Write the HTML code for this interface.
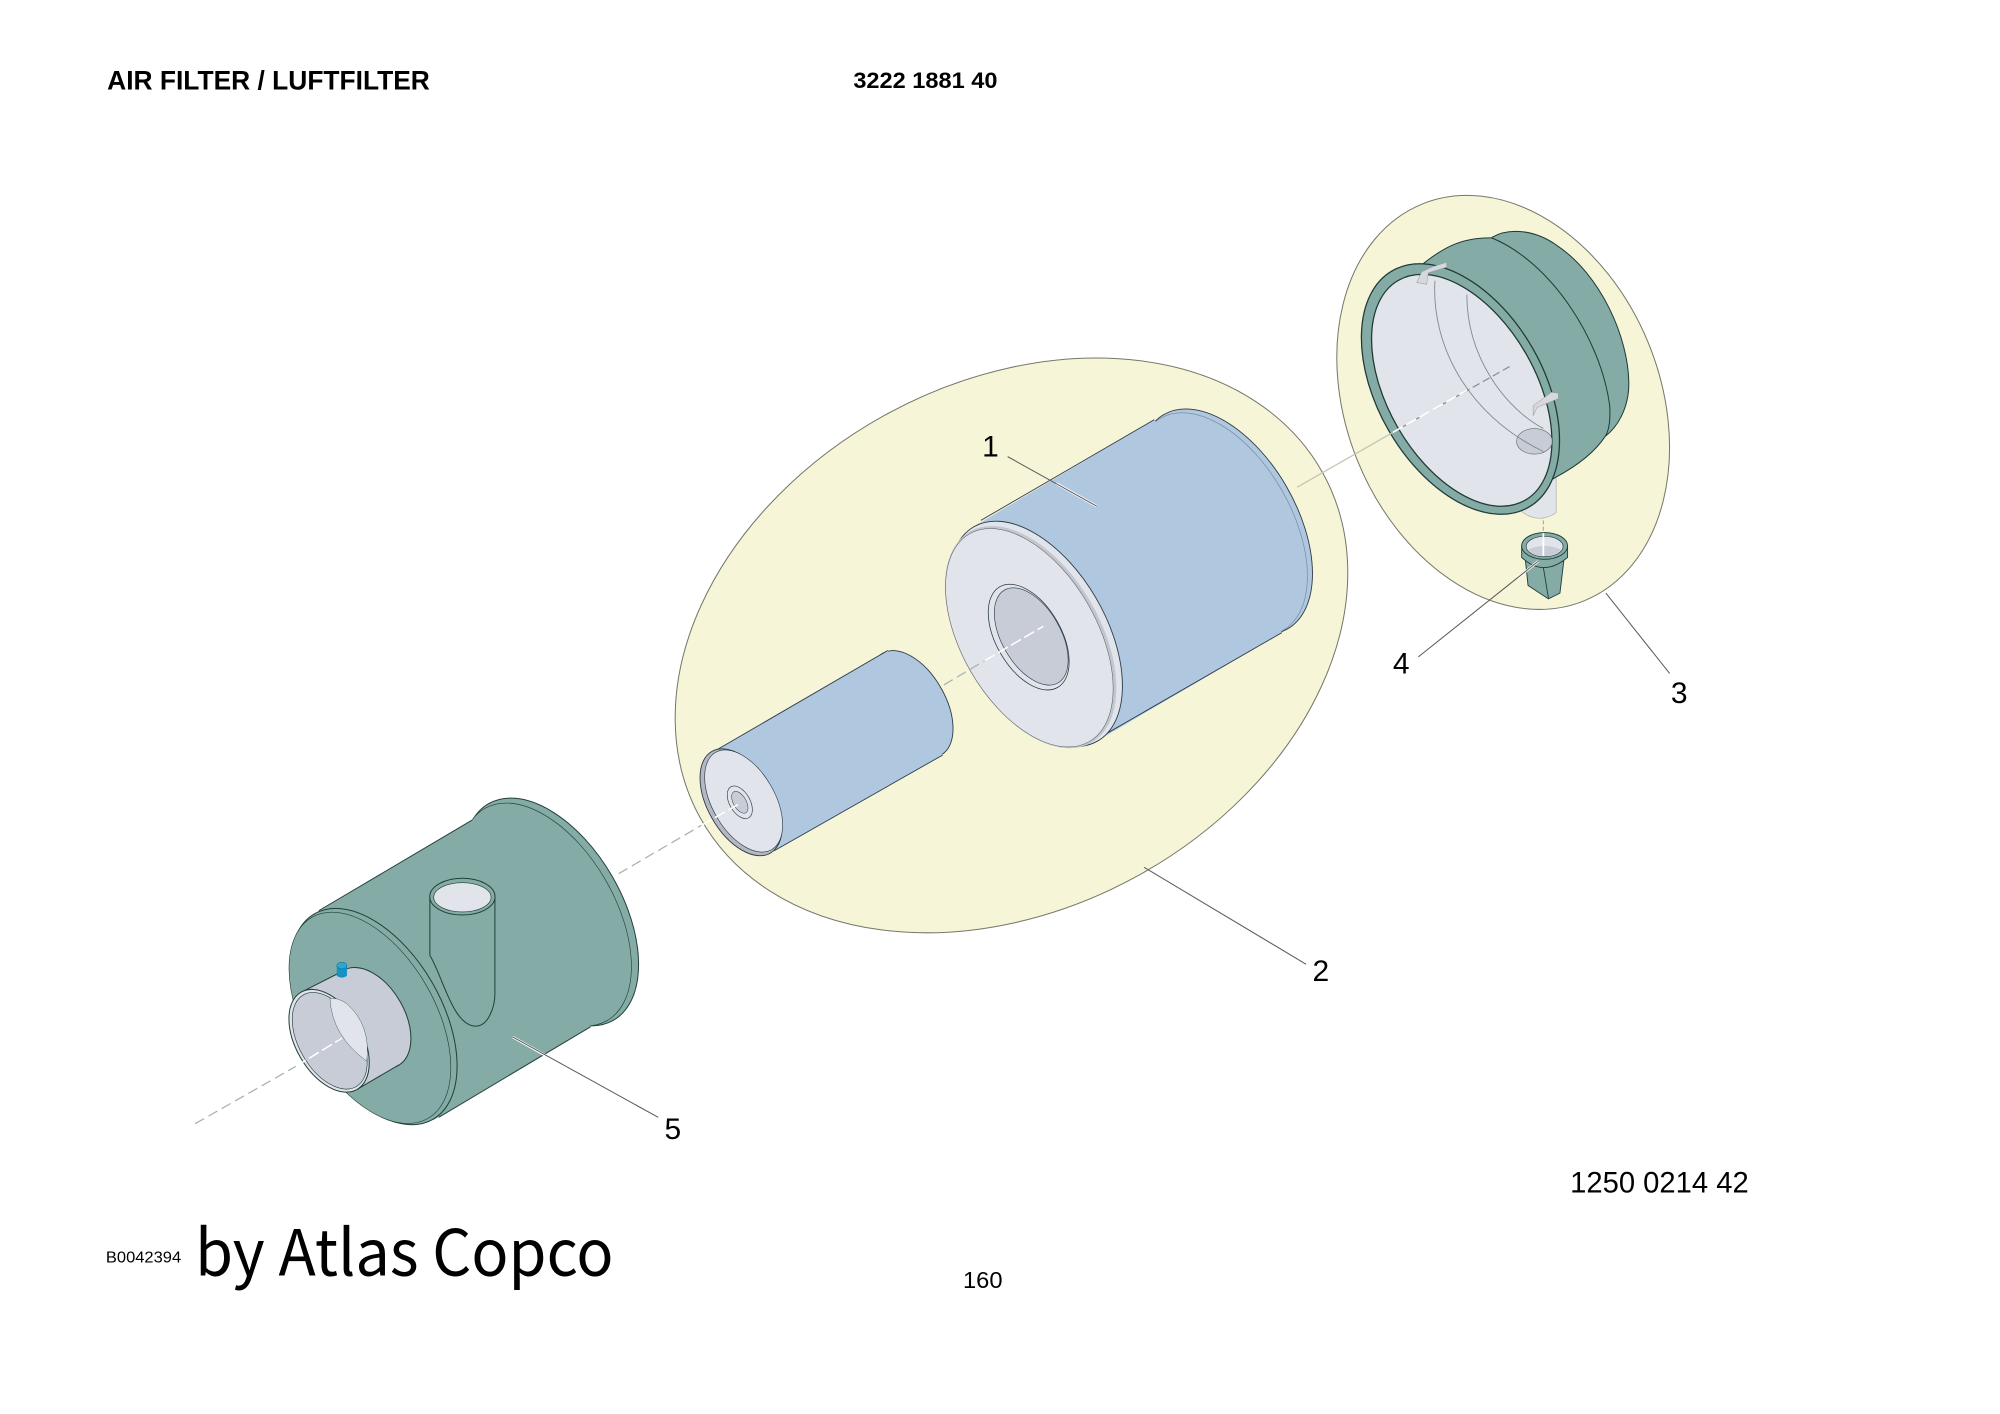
<!DOCTYPE html>
<html><head><meta charset="utf-8"><style>html,body{margin:0;padding:0;background:#fff}svg{display:block}text{font-family:"Liberation Sans",sans-serif;fill:#000}</style></head>
<body>
<svg xmlns="http://www.w3.org/2000/svg" width="2000" height="1414" viewBox="0 0 1568 1108.6">
<defs>
<clipPath id="inner"><ellipse cx="1146" cy="306" rx="58" ry="99.5" transform="rotate(-30 1146 306)"/></clipPath>
</defs>
<rect width="1568" height="1108.6" fill="#fff"/>

<!-- backdrop ellipses -->
<ellipse cx="793" cy="506" rx="279" ry="206" transform="rotate(-29 793 506)" fill="#f6f5d8" stroke="#77776a" stroke-width=".8"/>
<ellipse cx="1178.5" cy="315.5" rx="123" ry="168" transform="rotate(-22.3 1178.5 315.5)" fill="#f6f5d8" stroke="#77776a" stroke-width=".8"/>

<!-- part 5 housing -->
<g stroke="#23403b" stroke-width=".8">
<ellipse cx="432" cy="715" rx="55.5" ry="98" transform="rotate(-30 432 715)" fill="#84aba5"/>
<ellipse cx="428" cy="717" rx="54" ry="96" transform="rotate(-30 428 717)" fill="#84aba5" stroke-width=".5"/>
<polygon points="246,717 370,643 463,805 340,878" fill="#84aba5" stroke="none"/>
<path d="M250,714L370,643M344,876L463,805" fill="none"/>
<ellipse cx="293" cy="797" rx="53" ry="93" transform="rotate(-30 293 797)" fill="#84aba5"/>
<ellipse cx="290" cy="798" rx="51" ry="91" transform="rotate(-30 290 798)" fill="#84aba5" stroke-width=".5"/>
<path d="M337,704V749C347,765 355,804.5 373,804.5C383,804.5 388,789 388,779V704" fill="#84aba5"/>
<ellipse cx="362.5" cy="703" rx="25.6" ry="14.4" fill="#84aba5"/>
<ellipse cx="362.5" cy="703.5" rx="22.5" ry="11.5" fill="#e1e4ea" stroke-width=".5"/>
<!-- spigot -->
<ellipse cx="291" cy="798" rx="26" ry="43" transform="rotate(-30 291 798)" fill="#c8ccd6"/>
<polygon points="236,778 269.5,761 312.5,835 280,854" fill="#c8ccd6" stroke="none"/>
<path d="M236,778L269.5,761M280,854L312.5,835" fill="none"/>
<ellipse cx="258" cy="816" rx="26" ry="44" transform="rotate(-30 258 816)" fill="#e1e4ea"/>
<ellipse cx="258.5" cy="816" rx="24" ry="41.5" transform="rotate(-30 258.5 816)" fill="#c8ccd6" stroke-width=".5"/>
<path d="M258.7,782.7Q260,812 287.5,832Q291,804 272,787Q265,782 258.7,782.7Z" fill="#e1e4ea" stroke-width=".3"/>
</g>
<path d="M264,757V765Q268,768 272,765V757Z" fill="#1592c4"/>
<ellipse cx="268" cy="757" rx="4" ry="2.6" fill="#2fa6d2" stroke="#0c6f96" stroke-width=".4"/>

<!-- part 1 inner cylinder -->
<g stroke="#2c3a46" stroke-width=".7">
<ellipse cx="715" cy="552" rx="26" ry="46" transform="rotate(-30 715 552)" fill="#b0c8df"/>
<polygon points="560,589 696,510 739,592 607,667" fill="#b0c8df" stroke="none"/>
<path d="M560,589L696,510M607,667L739,592" fill="none"/>
<ellipse cx="581" cy="629" rx="26" ry="46" transform="rotate(-30 581 629)" fill="#b4b8c2"/>
<ellipse cx="583" cy="628" rx="24.5" ry="44" transform="rotate(-30 583 628)" fill="#e1e4ea" stroke-width=".5"/>
<ellipse cx="580" cy="629" rx="8" ry="14" transform="rotate(-30 580 629)" fill="#e1e4ea" stroke-width=".5"/>
<ellipse cx="580" cy="629" rx="5" ry="9.5" transform="rotate(-30 580 629)" fill="#c8ccd6" stroke-width=".4"/>
</g>

<!-- part 1 outer cylinder -->
<g stroke="#2c3a46" stroke-width=".7">
<ellipse cx="961" cy="409" rx="55" ry="97" transform="rotate(-30 961 409)" fill="#b0c8df"/>
<ellipse cx="958" cy="411" rx="54" ry="96" transform="rotate(-30 958 411)" fill="#b0c8df" stroke="#7f8fa3" stroke-width=".6"/>
<polygon points="763,413 905,329 1005,496 860,581" fill="#b0c8df" stroke="none"/>
<path d="M769,408L905,329M866,576L1005,496" fill="none"/>
<ellipse cx="812" cy="497" rx="55" ry="97" transform="rotate(-30 812 497)" fill="#e1e4ea"/>
<ellipse cx="808" cy="499.5" rx="53" ry="94" transform="rotate(-30 808 499.5)" fill="#e1e4ea" stroke="#c2c6d0" stroke-width="3"/>
<ellipse cx="807" cy="500" rx="53" ry="94" transform="rotate(-30 807 500)" fill="#e1e4ea" stroke="#555" stroke-width=".4"/>
<ellipse cx="806.5" cy="499.5" rx="25.5" ry="45.5" transform="rotate(-30 806.5 499.5)" fill="#e1e4ea" stroke-width=".6"/>
<ellipse cx="808.5" cy="499" rx="23" ry="42" transform="rotate(-30 808.5 499)" fill="#c8ccd6" stroke-width=".5"/>
</g>

<!-- part 3 bowl -->
<path d="M1190.4,385V399Q1205,412 1220,402V365Z" fill="#e1e4ea" stroke="#aaa" stroke-width=".5"/>
<g stroke="#1f3a36" stroke-width=".8">
<path d="M1170,186C1180,180 1200,178 1220,192C1255,215 1277,265 1277,301C1277,320 1268,335 1258.6,342L1230,350Z" fill="#84aba5"/>
<path d="M1113,209C1130,195 1145,186 1169.5,186.5C1215,205 1255,265 1262,318Q1263,335 1258.6,342C1250,355 1235,366 1220,374L1190,392L1145,305Z" fill="#84aba5"/>
<ellipse cx="1145" cy="305" rx="65" ry="107" transform="rotate(-30 1145 305)" fill="#84aba5" stroke-width="1"/>
<ellipse cx="1146" cy="306" rx="58" ry="99.5" transform="rotate(-30 1146 306)" fill="#e1e4ea" stroke-width="1"/>
</g>
<g clip-path="url(#inner)" fill="none" stroke="#808890" stroke-width=".7">
<ellipse cx="1203" cy="346" rx="14" ry="10" fill="#c8ccd6" stroke="#666" stroke-width=".5"/>
<path d="M1125,220C1122,270 1150,325 1210,354"/>
<path d="M1150,231C1150,280 1180,320 1210,336"/>
</g>
<!-- clips -->
<path d="M1110.7,221.5L1118.5,222.9L1119.8,213.9L1134.2,209.4L1134.2,205.6L1123.8,208.9L1114.7,213.1Z" fill="#d5d8de" stroke="#999" stroke-width=".4"/>
<path d="M1202,326L1205,319.5L1221.7,312.5L1221.7,308.3L1216.4,307.5L1202,318.1Z" fill="#d5d8de" stroke="#999" stroke-width=".4"/>

<!-- part 4 cup -->
<g stroke="#1f3a36" stroke-width=".7">
<path d="M1196,440L1198,459L1214,469.5L1223,465L1226,440Z" fill="#84aba5"/>
<path d="M1193,428V437Q1210,453 1229,437V428Z" fill="#84aba5"/>
<path d="M1210,445L1214,469" fill="none"/>
<ellipse cx="1211" cy="428" rx="18" ry="10.5" fill="#84aba5"/>
<ellipse cx="1211" cy="428.5" rx="14.5" ry="8" fill="#e1e4ea" stroke-width=".5"/>
<path d="M1198,431Q1211,425 1224,431Q1219,436 1211,436Q1203,436 1198,431Z" fill="#c8ccd6" stroke="none"/>
</g>

<!-- centre lines -->
<g fill="none" stroke-width="1">
<path d="M153,881L232,836M485,685L550,647M740,537L772,518" stroke="#aeb0b0" stroke-dasharray="8 4"/>
<path d="M232,836L268,814M550,647L580,630M772,518L818,491" stroke="#fff" stroke-width="1.2" stroke-dasharray="9 3"/>
<path d="M1092,339L1186,286" stroke="#8a8f98" stroke-dasharray="6 3"/>
<path d="M1092,339L1150,306" stroke="#fff" stroke-width="1.3" stroke-dasharray="9 3"/>
<path d="M1017,382L1092,339" stroke="#c4c5b4"/>
<path d="M1210,408V418" stroke="#aeb0b0" stroke-dasharray="3 2"/>
<path d="M1210,418V436" stroke="#fff" stroke-width="1.4"/>
</g>

<!-- leaders -->
<g fill="none" stroke-width=".8">
<path d="M828,379L860,397M402,813L432,830M1206,440L1190,453" stroke="#fff" stroke-width="2"/>
<path d="M790,358L860,397M897,680L1024,756M1259,465L1309,528M1112,515L1206,440M402,813L516,876" stroke="#5a5a5a"/>
</g>

<!-- labels -->
<g font-size="23.5">
<text x="770" y="358">1</text>
<text x="1029" y="769">2</text>
<text x="1310" y="551">3</text>
<text x="1092" y="528">4</text>
<text x="521" y="893">5</text>
</g>
<text x="84" y="70" font-size="21" font-weight="700" textLength="253" lengthAdjust="spacingAndGlyphs">AIR FILTER / LUFTFILTER</text>
<text x="669" y="69" font-size="17.5" font-weight="700" textLength="113" lengthAdjust="spacingAndGlyphs">3222 1881 40</text>
<text x="1231" y="935" font-size="23" textLength="140" lengthAdjust="spacingAndGlyphs">1250 0214 42</text>
<text x="755" y="1010" font-size="18" textLength="31" lengthAdjust="spacingAndGlyphs">160</text>
<text x="83" y="990" font-size="12.5" textLength="59" lengthAdjust="spacingAndGlyphs">B0042394</text>
<text x="153" y="1000" style="font-family:'Noto Sans CJK SC','Liberation Sans',sans-serif" font-size="50" textLength="328" lengthAdjust="spacingAndGlyphs">by Atlas Copco</text>
</svg>
</body></html>
